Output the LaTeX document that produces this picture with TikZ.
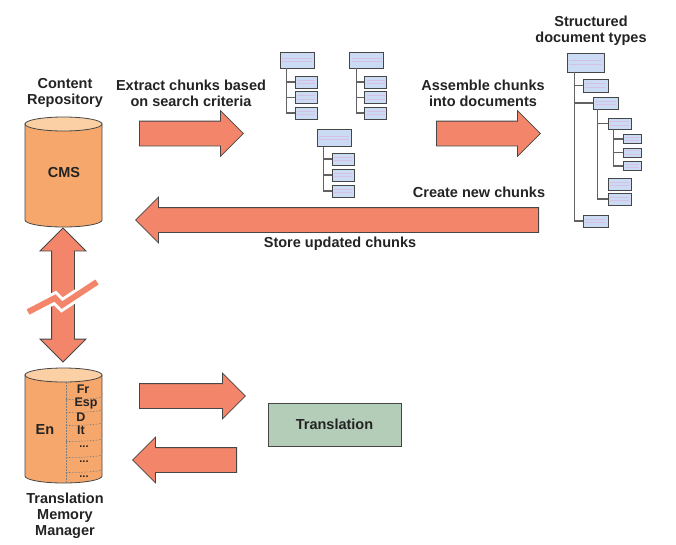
\documentclass[tikz,border=0pt]{standalone}
\usepackage{fontspec}
\setmainfont{Liberation Sans}
\usetikzlibrary{shapes,arrows,positioning,fit}
\usepackage{xcolor}
\definecolor{arrowsalmon}{RGB}{243,134,106}
\definecolor{cylbody}{RGB}{246,168,108}
\definecolor{cyltop}{RGB}{251,208,164}
\definecolor{chunkblue}{RGB}{204,219,244}
\definecolor{chunklilac}{RGB}{214,192,228}
\definecolor{transgreen}{RGB}{180,205,184}
\definecolor{edgegray}{RGB}{70,70,70}
\definecolor{textgray}{RGB}{35,35,35}

% drum shape: centre x, top y, bottom y
\newcommand{\drumshape}[3]{
    \filldraw[draw=edgegray, fill=cylbody, line width=0.8pt]
        (#1-38.5,#2+7) -- (#1-38.5,#3-7) arc[start angle=180, end angle=0, x radius=38.5, y radius=7]
        -- (#1+38.5,#2+7) -- cycle;
    \filldraw[draw=edgegray, fill=cyltop, line width=0.8pt] (#1,#2+7) ellipse[x radius=38.5, y radius=7];
}

\tikzset{
    lbl/.style={font=\fontsize{14.5}{16}\selectfont\bfseries, text=textgray, align=center},
    langlbl/.style={lbl, font=\fontsize{12.5}{12}\selectfont\bfseries},
    blockarrow/.style={single arrow, draw=edgegray, fill=arrowsalmon, line width=0.8pt,
        inner xsep=0pt, inner ysep=12pt, single arrow head extend=10.5pt},
    chunk/.style={rectangle, draw=edgegray, fill=chunkblue, line width=0.8pt, inner sep=0pt,
        path picture={
            \draw[chunklilac, line width=1pt] ([xshift=2pt,yshift=1.8pt]path picture bounding box.west) -- ([xshift=-2pt,yshift=1.8pt]path picture bounding box.east);
            \draw[chunklilac, line width=1pt] ([xshift=2pt,yshift=-1.8pt]path picture bounding box.west) -- ([xshift=-2pt,yshift=-1.8pt]path picture bounding box.east);
        }},
    topchunk/.style={chunk, minimum width=34pt, minimum height=16pt},
    subchunk/.style={chunk, minimum width=22pt, minimum height=12pt},
    treeline/.style={draw=edgegray!85, line width=1.1pt},
    tmmdots/.style={draw=edgegray!70, line width=0.6pt, dash pattern=on 1.5pt off 1.5pt}
}

\begin{document}
\begin{tikzpicture}[x=1pt,y=-1pt]
    \useasboundingbox (0,0) rectangle (676,544);

    % content repository
    \drumshape{63.5}{117}{227}
    \node[lbl] (cmstext) at (64,173) {CMS};
    \node[lbl] (cmslbl) at (65,93) {Content\\Repository};

    % link between repository and translation memory
    \node[double arrow, shape border rotate=90, draw=edgegray, fill=arrowsalmon, line width=0.8pt,
        inner xsep=11pt, inner ysep=0pt, double arrow head extend=11.5pt, minimum height=134pt] (link) at (63,295) {};
    \draw[white, line width=12pt] (28,312) -- (55,298) -- (62,305) -- (97,282);
    \draw[arrowsalmon, line width=6pt] (28,312) -- (55,298) -- (62,305) -- (97,282);

    % translation memory manager
    \drumshape{63.5}{368}{483}
    \draw[tmmdots] (66,382) -- (66,484);
    \foreach \yl in {397,410,423,439,455,470}
        \draw[tmmdots] (66,\yl+2.5) arc[start angle=86, end angle=0, x radius=37.5, y radius=2.5];
    \node[lbl] (entext) at (45,430) {En};
    \node[langlbl] (frtext) at (83,389) {Fr};
    \node[langlbl] (esptext) at (86,403) {Esp};
    \node[langlbl] (dtext) at (81,417) {D};
    \node[langlbl] (ittext) at (81,430) {It};
    \foreach \yl in {447,462,477}
        \node[lbl, font=\fontsize{11}{10}\selectfont\bfseries] at (84,\yl) {...};
    \node[lbl] (tmmlbl) at (65,516) {Translation\\Memory\\Manager};

    % extract step
    \node[lbl] (extractlbl) at (191,93) {Extract chunks based\\on search criteria};
    \node[blockarrow, anchor=tail, minimum height=104pt] (extract) at (139,133.5) {};

    % extracted chunks
    \node[topchunk] (ca) at (297,60) {};
    \node[subchunk] (ca1) at (306,82) {};
    \node[subchunk] (ca2) at (306,97.5) {};
    \node[subchunk] (ca3) at (306,113) {};
    \node[topchunk] (cb) at (366.5,60) {};
    \node[subchunk] (cb1) at (375.5,82) {};
    \node[subchunk] (cb2) at (375.5,97.5) {};
    \node[subchunk] (cb3) at (375.5,113) {};
    \node[topchunk, minimum height=17pt] (cc) at (334,138) {};
    \node[subchunk] (cc1) at (343,159) {};
    \node[subchunk] (cc2) at (343,175) {};
    \node[subchunk] (cc3) at (343,191) {};
    \foreach \t in {ca,cb,cc}
        \foreach \c in {1,2,3}
            \draw[treeline] ([xshift=7pt]\t.south west) |- (\t\c.west);

    % assemble step
    \node[lbl] (assemblelbl) at (483,93) {Assemble chunks\\into documents};
    \node[blockarrow, anchor=tail, minimum height=104pt] (assemble) at (436,133.5) {};

    % structured document types
    \node[lbl] (typeslbl) at (591,31) {Structured\\document types};
    \node[chunk, minimum width=37pt, minimum height=19pt] (sr) at (585.5,62.5) {};
    \node[chunk, minimum width=25pt, minimum height=13pt] (s1) at (595.5,85.5) {};
    \node[chunk, minimum width=25pt, minimum height=12pt] (s2) at (605.5,103) {};
    \node[chunk, minimum width=25pt, minimum height=12pt] (s3) at (595.5,221) {};
    \node[chunk, minimum width=23pt, minimum height=11pt] (s21) at (619.5,123.5) {};
    \node[chunk, minimum width=23pt, minimum height=12pt] (s22) at (619.5,184) {};
    \node[chunk, minimum width=23pt, minimum height=12pt] (s23) at (619.5,199) {};
    \node[chunk, minimum width=18pt, minimum height=9pt] (s211) at (632,139) {};
    \node[chunk, minimum width=18pt, minimum height=9pt] (s212) at (632,152.5) {};
    \node[chunk, minimum width=18pt, minimum height=9pt] (s213) at (632,166) {};
    \foreach \c in {s1,s2,s3}
        \draw[treeline] ([xshift=8pt]sr.south west) |- (\c.west);
    \foreach \c in {s21,s23}
        \draw[treeline] ([xshift=5pt]s2.south west) |- (\c.west);
    \foreach \c in {s211,s212,s213}
        \draw[treeline] ([xshift=6pt]s21.south west) |- (\c.west);

    % write back
    \node[lbl] (createlbl) at (479,192) {Create new chunks};
    \node[blockarrow, anchor=tail, shape border rotate=180, minimum height=403pt] (storeback) at (539,220) {};
    \node[lbl] (storelbl) at (340,244) {Store updated chunks};

    % translation round trip
    \node[blockarrow, anchor=tail, minimum height=106pt] (totrans) at (139,396) {};
    \node[rectangle, draw=edgegray, fill=transgreen, line width=0.8pt, minimum width=133pt, minimum height=43pt] (trans) at (334.5,424.5) {};
    \node[lbl] (transtext) at (trans.center) {Translation};
    \node[blockarrow, anchor=tail, shape border rotate=180, minimum height=104pt] (fromtrans) at (237,460) {};
\end{tikzpicture}
\end{document}
